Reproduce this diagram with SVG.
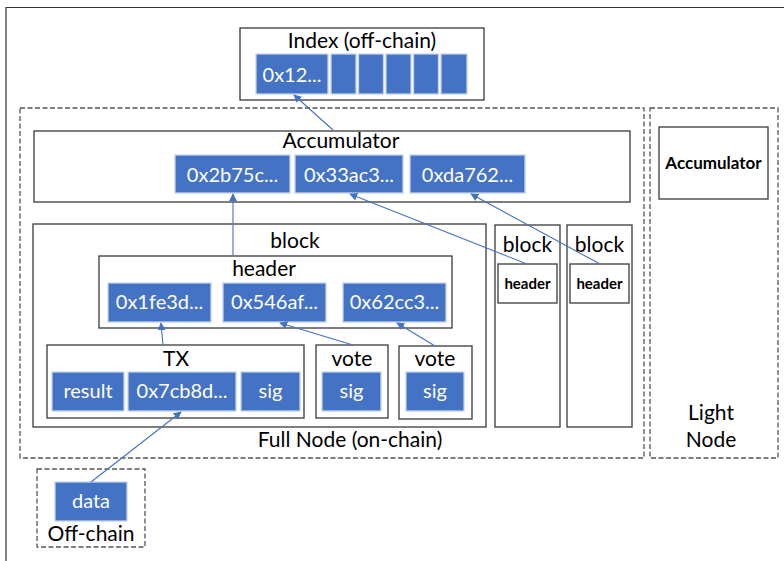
<svg xmlns="http://www.w3.org/2000/svg" width="784" height="561" viewBox="0 0 784 561">
<defs>
<style>
text{font-family:Lato,"Liberation Sans",sans-serif;text-anchor:middle;fill:#000}
.box{fill:#fff;stroke:#3a3a3a;stroke-width:1.3}
.dash{fill:none;stroke:#555;stroke-width:1.3;stroke-dasharray:5,2.5}
.cell{fill:#4472C4;stroke:#c5d3ec;stroke-width:1.3}
.ct{fill:#fff;font-size:20px}
.t{font-size:21px}
.b{font-size:15px;font-weight:bold}
.conn{stroke:#4472C4;stroke-width:1.1;fill:none;marker-end:url(#ah)}
</style>
<marker id="ah" viewBox="0 0 10 10" refX="9" refY="5" markerWidth="8" markerHeight="8" markerUnits="userSpaceOnUse" orient="auto">
<path d="M0,0 L10,5 L0,10 z" fill="#4472C4"/>
</marker>
</defs>
<path d="M6,561 V7.5 H784" fill="none" stroke="#333" stroke-width="1.2"/>

<g id="index">
<rect class="box" x="240" y="28" width="244" height="72"/>
<text class="t" x="362" y="48">Index (off-chain)</text>
<rect class="cell" x="256" y="54" width="72" height="40"/>
<text class="ct" x="292" y="82">0x12...</text>
<rect class="cell" x="331" y="54" width="25" height="40"/>
<rect class="cell" x="358.5" y="54" width="25" height="40"/>
<rect class="cell" x="386" y="54" width="25" height="40"/>
<rect class="cell" x="413.5" y="54" width="25" height="40"/>
<rect class="cell" x="441" y="54" width="26" height="40"/>
</g>

<g id="full-node">
<rect class="dash" x="20" y="108" width="624" height="350"/>
<text class="t" x="350" y="447">Full Node (on-chain)</text>
</g>

<g id="light-node">
<rect class="dash" x="650" y="108" width="128" height="350"/>
<text class="t" x="711" y="420">Light</text>
<text class="t" x="711" y="447">Node</text>
<rect class="box" x="659" y="127" width="109" height="72"/>
<text class="b" x="713.5" y="169" style="font-size:17px">Accumulator</text>
</g>

<g id="accumulator">
<rect class="box" x="34" y="131" width="596" height="71"/>
<text class="t" x="341" y="148">Accumulator</text>
<rect class="cell" x="175" y="155" width="115" height="38"/>
<text class="ct" x="232.5" y="182">0x2b75c...</text>
<rect class="cell" x="295" y="155" width="108" height="38"/>
<text class="ct" x="349" y="182">0x33ac3...</text>
<rect class="cell" x="410" y="155" width="115" height="38"/>
<text class="ct" x="467.5" y="182">0xda762...</text>
</g>

<g id="block">
<rect class="box" x="33" y="224" width="453" height="203"/>
<text class="t" x="295" y="248">block</text>
</g>

<g id="header">
<rect class="box" x="99" y="256" width="353" height="72"/>
<text class="t" x="264" y="276">header</text>
<rect class="cell" x="108" y="283" width="103" height="39"/>
<text class="ct" x="159.5" y="309">0x1fe3d...</text>
<rect class="cell" x="223" y="283" width="103" height="39"/>
<text class="ct" x="274.5" y="309">0x546af...</text>
<rect class="cell" x="343" y="283" width="103" height="39"/>
<text class="ct" x="394.5" y="309">0x62cc3...</text>
</g>

<g id="tx">
<rect class="box" x="47" y="345" width="257" height="73"/>
<text class="t" x="176" y="366">TX</text>
<rect class="cell" x="52" y="372" width="72" height="39"/>
<text class="ct" x="88" y="398">result</text>
<rect class="cell" x="128" y="372" width="108" height="39"/>
<text class="ct" x="182" y="398">0x7cb8d...</text>
<rect class="cell" x="241" y="372" width="59" height="39"/>
<text class="ct" x="270.5" y="398">sig</text>
</g>

<g id="vote1">
<rect class="box" x="316" y="345" width="72" height="73"/>
<text class="t" x="352" y="366">vote</text>
<rect class="cell" x="322" y="372" width="59" height="39"/>
<text class="ct" x="351.5" y="398">sig</text>
</g>

<g id="vote2">
<rect class="box" x="399" y="346" width="73" height="73"/>
<text class="t" x="435" y="366">vote</text>
<rect class="cell" x="406" y="372" width="58" height="39"/>
<text class="ct" x="435" y="398">sig</text>
</g>

<g id="block2">
<rect class="box" x="495" y="225" width="65" height="202"/>
<text class="t" x="527.5" y="252">block</text>
<rect class="box" x="498" y="264" width="59" height="39"/>
<text class="b" x="527.5" y="289">header</text>
</g>

<g id="block3">
<rect class="box" x="567" y="225" width="65" height="202"/>
<text class="t" x="599.5" y="252">block</text>
<rect class="box" x="570" y="264" width="59" height="39"/>
<text class="b" x="599.5" y="289">header</text>
</g>

<g id="off-chain">
<rect class="dash" x="37" y="469" width="108" height="78"/>
<rect class="cell" x="55" y="482" width="72" height="39"/>
<text class="ct" x="91" y="508">data</text>
<text class="t" x="91" y="541">Off-chain</text>
</g>

<g id="connectors">
<path class="conn" d="M333,130 L294,95"/>
<path class="conn" d="M233,256 L233,194"/>
<path class="conn" d="M163,345 L161,323"/>
<path class="conn" d="M353,345 L280,323"/>
<path class="conn" d="M435,346 L397,323"/>
<path class="conn" d="M527,264 L350,194"/>
<path class="conn" d="M600,264 L471,194"/>
<path class="conn" d="M91,482 L181,412"/>
</g>
</svg>
